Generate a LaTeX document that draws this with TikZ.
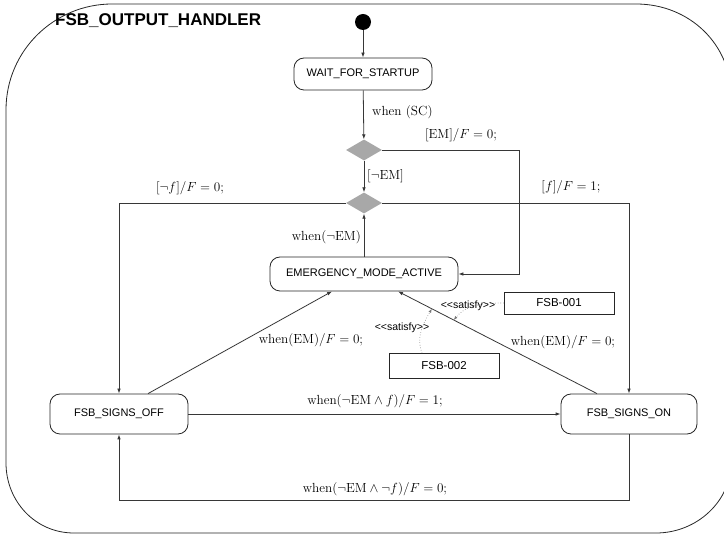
\documentclass[tikz,border=0pt]{standalone}
\usepackage{fontspec}
\setsansfont{Liberation Sans}
\usetikzlibrary{shapes.geometric,arrows.meta,calc}

\definecolor{linegray}{RGB}{55,55,55}
\definecolor{choicefill}{RGB}{168,168,168}
\definecolor{depgray}{RGB}{120,120,120}

\begin{document}
\begin{tikzpicture}[x=1pt,y=-1pt,
  frame/.style={draw=black!85, line width=0.8pt},
  conn/.style={draw=linegray, line width=0.8pt},
  arr/.style={conn, -{Latex[length=5pt,width=3.6pt]}},
  dep/.style={draw=depgray, line width=0.6pt, dotted, -{Latex[length=4pt,width=3pt]}},
  state/.style={draw=black!85, line width=0.8pt, rounded corners=10pt, inner sep=0pt,
    font=\sffamily\fontsize{11}{13}\selectfont},
  req/.style={draw=black!85, line width=0.8pt, inner sep=0pt,
    font=\sffamily\fontsize{11.5}{13}\selectfont},
  choice/.style={diamond, fill=choicefill, inner sep=0pt, minimum width=36pt, minimum height=21pt},
  initdot/.style={circle, fill=black, inner sep=0pt, minimum size=16pt},
  lbl/.style={inner sep=0pt, font=\fontsize{12}{14}\selectfont, scale=1.1},
  stereo/.style={inner sep=0pt, font=\sffamily\fontsize{10.5}{12}\selectfont}
]
\useasboundingbox (0,0) rectangle (724,534);

% enclosing composite state
\draw[frame] (6,110) -- (6,463) .. controls (6,501) and (35,533) .. (74,533)
  -- (656,533) .. controls (697,533) and (731,501) .. (731,463)
  -- (731,95) .. controls (731,45) and (690,4) .. (636,4)
  -- (112,4) .. controls (55,4) and (6,50) .. (6,110) -- cycle;
\node[font=\sffamily\bfseries\fontsize{17}{20}\selectfont, anchor=base west, inner sep=0pt]
  (title) at (55,26) {FSB\_OUTPUT\_HANDLER};

% states and pseudo states
\node[initdot] (init) at (363,22) {};
\node[state, minimum width=138pt, minimum height=32pt] (wait) at (363,74) {WAIT\_FOR\_STARTUP};
\node[choice] (d1) at (364,150) {};
\node[choice] (d2) at (364,203) {};
\node[state, minimum width=188pt, minimum height=34pt] (ema) at (364,274) {EMERGENCY\_MODE\_ACTIVE};
\node[state, minimum width=138pt, minimum height=40pt] (off) at (119,414) {FSB\_SIGNS\_OFF};
\node[state, minimum width=136pt, minimum height=40pt] (on) at (629,414) {FSB\_SIGNS\_ON};

% requirements
\node[req, minimum width=110pt, minimum height=22pt] (r1) at (559,303) {FSB-001};
\node[req, minimum width=110pt, minimum height=25pt] (r2) at (444,366) {FSB-002};

% bend points
\coordinate (k1) at (519,150);
\coordinate (k2) at (629,500);

% transitions
\draw[arr] (init) -- (wait);
\draw[arr] (wait) -- (d1);
\draw[arr] (d1) -- (d2);
\draw[arr] (ema) -- (d2);
\draw[arr] (d1.east) -- (k1) |- (ema.east);
\draw[arr] (d2.west) -| (off.north);
\draw[arr] (d2.east) -| (on.north);
\draw[arr] (off.east) -- (on.west);
\draw[arr] (on.south) -- (k2) -| (off.south);
\draw[arr] ([xshift=29pt]off.north) -- ([xshift=-32pt]ema.south);
\draw[arr] ([xshift=-32pt]on.north) -- coordinate[pos=0.72] (s1) coordinate[pos=0.83] (s2)
  ([xshift=34pt]ema.south);

% satisfy dependencies
\draw[dep] (r1.west) to[out=180,in=50] (s1);
\draw[dep] ([xshift=-22pt]r2.north) to[out=110,in=240] (s2);
\node[stereo] (t1) at (468,306) {<{}<satisfy>{}>};
\node[stereo] (t2) at (402,328) {<{}<satisfy>{}>};

% transition labels
\node[lbl, anchor=west] (l1) at (372,112) {when (SC)};
\node[lbl] (l2) at (461,135) {$[\mathrm{EM}]/F = 0;$};
\node[lbl, anchor=west] (l3) at (367,176) {$[\neg\mathrm{EM}]$};
\node[lbl] (l4) at (571,187) {$[f]/F = 1;$};
\node[lbl] (l5) at (190,188) {$[\neg f]/F = 0;$};
\node[lbl, anchor=east] (l6) at (361,237) {$\mathrm{when}(\neg\mathrm{EM})$};
\node[lbl] (l7) at (311,340) {$\mathrm{when}(\mathrm{EM})/F = 0;$};
\node[lbl] (l8) at (563,342) {$\mathrm{when}(\mathrm{EM})/F = 0;$};
\node[lbl] (l9) at (375,401) {$\mathrm{when}(\neg\mathrm{EM}\wedge f)/F = 1;$};
\node[lbl] (l10) at (375,489) {$\mathrm{when}(\neg\mathrm{EM}\wedge\neg f)/F = 0;$};
\end{tikzpicture}
\end{document}
